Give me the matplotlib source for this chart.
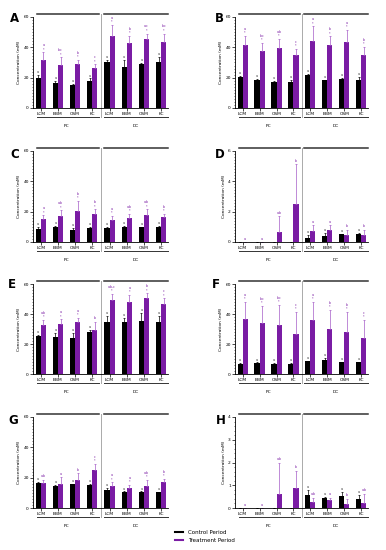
import numpy as np
import matplotlib.pyplot as plt
from matplotlib.ticker import MultipleLocator
import matplotlib.transforms as mtransforms

W, H = 386, 550
PURPLE = '#7a1ca4'
PURPLE_ERR = '#a55cc8'

sites = ['LCM', 'BBM', 'OSM', 'KC', 'LCM', 'BBM', 'OSM', 'KC']
periods = ['PC', 'DC']

# panel data: control mean / sd, treatment mean / sd
A_ctrl = [20.0, 16.8, 15.0, 17.9, 30.3, 27.2, 28.8, 30.1]
A_ctrl_sd = [1.5, 1.2, 0.7, 1.6, 1.3, 4.4, 0.6, 3.3]
A_trt = [31.6, 28.3, 28.8, 26.1, 47.6, 42.7, 45.6, 43.4]
A_trt_sd = [5.1, 5.1, 2.8, 2.7, 7.0, 4.9, 3.5, 5.7]
A_sig = ['a\n*', 'b,c\n*', 'b\n*', 'c\n*', 'a\n*', 'b\n*', 'a,c\n*', 'b,c\n*']

B_ctrl = [20.2, 18.7, 17.4, 17.4, 21.5, 18.2, 19.3, 18.7]
B_ctrl_sd = [0.7, 0.6, 0.6, 1.3, 1.1, 0.5, 0.8, 1.5]
B_trt = [41.3, 37.4, 39.6, 35.2, 44.4, 41.3, 43.3, 35.2]
B_trt_sd = [6.4, 5.5, 6.1, 3.7, 9.4, 6.0, 8.3, 5.0]
B_sig = ['a\n*', 'b,c\n*', 'a,b\n*', 'c\n*', 'a\n*', 'b\n*', 'a\n*', 'b\n*']

C_ctrl = [8.8, 9.9, 8.1, 9.5, 9.2, 9.9, 9.9, 9.9]
C_ctrl_sd = [1.1, 0.4, 1.4, 0.4, 0.6, 0.9, 0.2, 0.4]
C_trt = [15.4, 17.1, 20.2, 18.7, 14.7, 16.0, 17.6, 16.5]
C_trt_sd = [2.2, 3.8, 6.8, 2.8, 2.4, 2.7, 3.9, 2.2]
C_sig = ['a\n*', 'a,b\n*', 'b\n*', 'b\n*', 'a\n*', 'a,b\n*', 'a,b\n*', 'b\n*']

D_ctrl = [0, 0, 0, 0, 0.29, 0.40, 0.51, 0.51]
D_ctrl_sd = [0, 0, 0, 0, 0.15, 0.20, 0.02, 0.09]
D_trt = [0, 0, 0.66, 2.5, 0.71, 0.77, 0.49, 0.46]
D_trt_sd = [0, 0, 1.04, 2.63, 0.39, 0.33, 0.33, 0.36]
D_sig = ['a', 'a', 'a,b', 'b', 'a', 'a', 'b', 'b']

E_ctrl = [25.4, 25.0, 23.9, 27.7, 34.5, 34.5, 35.4, 34.5]
E_ctrl_sd = [0.7, 2.2, 3.3, 1.7, 4.2, 2.7, 5.5, 4.2]
E_trt = [32.7, 33.2, 35.0, 29.4, 49.3, 48.2, 50.4, 46.5]
E_trt_sd = [3.3, 3.3, 2.2, 5.6, 4.0, 4.5, 3.4, 3.9]
E_sig = ['a,b\n*', 'a\n*', 'a\n*', 'b', 'a,b,c\n*', 'a\n*', 'b\n*', 'c\n*']

F_ctrl = [6.9, 7.3, 6.6, 6.6, 8.4, 9.1, 7.7, 7.7]
F_ctrl_sd = [0.4, 0.4, 0.6, 0.6, 0.4, 1.5, 0.6, 0.6]
F_trt = [36.5, 33.8, 32.7, 26.5, 36.0, 30.1, 28.3, 23.9]
F_trt_sd = [11.7, 11.6, 13.3, 14.7, 12.2, 12.6, 12.9, 12.1]
F_sig = ['a\n*', 'b,c\n*', 'b,c\n*', 'c\n*', 'a\n*', 'b\n*', 'b\n*', 'c\n*']

G_ctrl = [16.5, 14.7, 15.8, 15.4, 12.1, 10.5, 10.5, 10.3]
G_ctrl_sd = [0.4, 0.6, 0.2, 0.4, 1.1, 0.4, 0.4, 0.3]
G_trt = [16.5, 16.0, 18.7, 25.3, 14.3, 13.2, 14.7, 16.9]
G_trt_sd = [2.2, 4.2, 4.4, 3.9, 2.6, 2.2, 4.0, 2.4]
G_sig = ['a,b', 'a', 'b', 'c\n*', 'a\n*', 'a\n*', 'a,b\n*', 'b\n*']

H_ctrl = [0, 0, 0, 0, 0.56, 0.46, 0.53, 0.41]
H_ctrl_sd = [0, 0, 0, 0, 0.22, 0.03, 0.18, 0.15]
H_trt = [0, 0, 0.63, 0.89, 0.27, 0.35, 0.18, 0.22]
H_trt_sd = [0, 0, 1.37, 0.75, 0.19, 0.11, 0.23, 0.41]
H_sig = ['a', 'a', 'a,b', 'b', 'a,b', 'a', 'b', 'a,b']

panels = [
    ('A', A_ctrl, A_ctrl_sd, A_trt, A_trt_sd, A_sig, 60, 20, 2),
    ('B', B_ctrl, B_ctrl_sd, B_trt, B_trt_sd, B_sig, 60, 20, 2),
    ('C', C_ctrl, C_ctrl_sd, C_trt, C_trt_sd, C_sig, 60, 20, 2),
    ('D', D_ctrl, D_ctrl_sd, D_trt, D_trt_sd, D_sig, 6, 2, 0.2),
    ('E', E_ctrl, E_ctrl_sd, E_trt, E_trt_sd, E_sig, 60, 20, 2),
    ('F', F_ctrl, F_ctrl_sd, F_trt, F_trt_sd, F_sig, 60, 20, 2),
    ('G', G_ctrl, G_ctrl_sd, G_trt, G_trt_sd, G_sig, 60, 20, 2),
    ('H', H_ctrl, H_ctrl_sd, H_trt, H_trt_sd, H_sig, 4, 1, 0.2),
]

# axes boxes in pixels (left, right, top, bottom)
cols = [(33, 168), (235, 368)]
rows = [(17, 108), (151, 242), (284, 374), (417, 508)]
letter_pos = [(10, 19), (215, 19), (10, 154), (215, 154),
              (8, 285), (212, 285), (8, 420), (216, 421)]

fig = plt.figure(figsize=(W / 100, H / 100), dpi=100)

x = np.arange(8)
bw = 0.3

for i, (name, ctrl, ctrl_sd, trt, trt_sd, sig, ymax, major, minor) in enumerate(panels):
    c0, c1 = cols[i % 2]
    r0, r1 = rows[i // 2]
    ax = fig.add_axes([c0 / W, 1 - r1 / H, (c1 - c0) / W, (r1 - r0) / H])

    ax.bar(x - bw / 2, ctrl, bw, color='black')
    ax.bar(x + bw / 2, trt, bw, color=PURPLE)
    ax.errorbar(x - bw / 2, ctrl, yerr=[np.zeros(8), ctrl_sd], fmt='none',
                ecolor='black', elinewidth=0.5, capsize=1, capthick=0.5)
    ax.errorbar(x + bw / 2, trt, yerr=[np.zeros(8), trt_sd], fmt='none',
                ecolor=PURPLE_ERR, elinewidth=0.5, capsize=1, capthick=0.5)

    for j in range(8):
        top = trt[j] + trt_sd[j]
        ax.text(x[j] + bw / 2, top + ymax * 0.015, sig[j], ha='center', va='bottom',
                fontsize=2.3, color=PURPLE, linespacing=0.9)
        if ctrl[j] > 0:
            ax.text(x[j] - bw / 2, ctrl[j] + ctrl_sd[j] + ymax * 0.01, 'a',
                    ha='center', va='bottom', fontsize=2.3, color='#333333')

    ax.set_xlim(-0.45, 7.4)
    ax.set_ylim(0, ymax)
    ax.yaxis.set_major_locator(MultipleLocator(major))
    ax.yaxis.set_minor_locator(MultipleLocator(minor))
    ax.set_xticks(x)
    ax.set_xticklabels(sites)
    ax.tick_params(axis='both', labelsize=3.2, length=2, width=0.5, pad=1)
    ax.tick_params(axis='y', which='minor', length=1, width=0.4)
    ax.spines['top'].set_visible(False)
    ax.spines['right'].set_visible(False)
    ax.spines['left'].set_linewidth(0.6)
    ax.spines['bottom'].set_linewidth(0.6)
    ax.set_ylabel('Concentration (mM)', fontsize=3.2, labelpad=1.5)

    # period brackets
    trans = mtransforms.blended_transform_factory(ax.transData, ax.transAxes)
    ax.plot([-0.2, 3.4], [1.035, 1.035], color='#333333', lw=1.1, transform=trans, clip_on=False)
    ax.plot([3.65, 7.4], [1.035, 1.035], color='#333333', lw=1.1, transform=trans, clip_on=False)
    ax.plot([-0.2, 3.4], [-0.1, -0.1], color='#333333', lw=0.7, transform=trans, clip_on=False)
    ax.plot([3.65, 7.4], [-0.1, -0.1], color='#333333', lw=0.7, transform=trans, clip_on=False)
    ax.plot([3.52, 3.52], [-0.1, 1.035], color='#aaaaaa', lw=0.7, transform=trans, clip_on=False)
    ax.text(1.5, -0.2, periods[0], transform=trans, ha='center', va='center', fontsize=3.2)
    ax.text(5.5, -0.2, periods[1], transform=trans, ha='center', va='center', fontsize=3.2)

    lx, ly = letter_pos[i]
    fig.text(lx / W, 1 - ly / H, name, fontsize=8.5, fontweight='bold', ha='left', va='center')

handles = [plt.Line2D([], [], color='black', lw=1.5),
           plt.Line2D([], [], color=PURPLE, lw=1.5)]
fig.legend(handles, ['Control Period', 'Treatment Period'], loc='center left',
           bbox_to_anchor=(170 / W, 1 - 536.5 / H), frameon=False, fontsize=4,
           handlelength=1.5, handletextpad=0.8, labelspacing=0.6)

fig.savefig('out.png', dpi=100)
